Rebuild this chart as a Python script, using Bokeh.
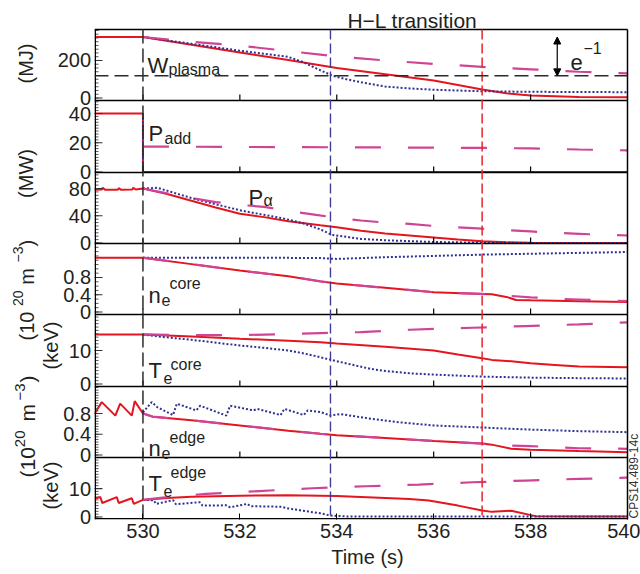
import math
from bokeh.plotting import figure
from bokeh.layouts import row
from bokeh.core.properties import value
from bokeh.models import Range1d, FixedTicker, Label, Arrow, NormalHead, ColumnDataSource
from bokeh.embed import file_html
from bokeh.resources import INLINE

# ---------------- data ----------------
X_TICKS = [530, 532, 534, 536, 538, 540]

# W_plasma (MJ)
T_W_RED = [529, 530, 531, 532, 533, 534, 535, 536, 537, 537.5, 538, 539, 540]
W_RED = [325, 325, 284, 243, 202, 160, 127, 93, 45, 25, 13, 6, 4]
T_W_BLUE = [530, 531, 532, 532.5, 533, 533.3, 533.6, 533.9, 534.2, 534.5, 535, 535.5, 536, 537, 538, 539, 540]
W_BLUE = [325, 289, 252, 236, 219, 192, 155, 120, 100, 84, 61, 51, 44, 36, 33, 32, 31]
T_W_MAG = [530, 531, 532, 533, 534, 535, 536, 537, 538, 539, 540]
W_MAG = [325, 300, 279, 250, 222, 200, 182, 166, 153, 140, 131]
E_LEVEL = 118          # W0 / e reference level
ARROW_T = 538.55

# P_add (MW)
T_PADD_RED = [529, 530, 530, 540]
PADD_RED = [40, 40, 0, 0]
T_PADD_BLUE = [530, 530, 540]
PADD_BLUE = [40, 0, 0]
T_PADD_MAG = [530, 533, 535, 537, 538, 539, 540]
PADD_MAG = [17.4, 17.0, 16.8, 16.5, 16.1, 15.4, 14.8]

# P_alpha (MW)
T_PA_RED = [529, 529.15, 529.17, 529.22, 529.48, 529.5, 529.55, 529.78, 529.8, 529.85, 530,
            530.5, 531, 531.5, 532, 532.5, 533, 533.66, 534, 534.5, 535, 535.5, 536, 536.5,
            537, 537.5, 538, 539, 540]
PA_RED = [78, 78.5, 81, 78, 78, 80.5, 78, 78.5, 81, 78.5, 80,
          72, 62, 52, 43, 38, 32, 26, 23, 18, 14, 11, 8, 5,
          2.5, 1, 0.3, 0.1, 0]
T_PA_BLUE = [530, 530.3, 531, 532, 532.9, 533.3, 533.66, 533.9, 534.5, 535, 536, 537, 538, 540]
PA_BLUE = [80, 81, 66, 48, 36, 29, 20, 12, 6, 4, 1.5, 0.5, 0, 0]
T_PA_MAG = [530, 530.5, 531, 531.5, 532, 532.5, 533, 533.5, 534, 534.5, 535, 535.5, 536,
            536.5, 537, 537.5, 538, 538.5, 539, 539.5, 540]
PA_MAG = [80, 73, 66, 60, 56, 53, 47, 42, 37, 33, 30, 28, 25, 23, 21, 19, 17, 15, 13.5, 12, 11]

# n_e core (1e20 m^-3)
T_NC_RED = [529, 530, 531, 532, 533, 533.66, 534, 535, 536, 537, 537.2, 537.5, 537.7, 538, 539, 540]
NC_RED = [1.26, 1.26, 1.11, 0.96, 0.83, 0.71, 0.66, 0.56, 0.46, 0.42, 0.41, 0.35, 0.28, 0.27, 0.25, 0.23]
T_NC_BLUE = [530, 531, 532, 533, 533.66, 534, 535, 536, 537, 538, 539, 540]
NC_BLUE = [1.26, 1.26, 1.26, 1.255, 1.25, 1.23, 1.27, 1.30, 1.33, 1.35, 1.37, 1.39]
T_NC_MAG = [530, 531, 532, 533, 533.66, 534, 535, 536, 537, 537.5, 538, 538.5, 539, 539.5, 540]
NC_MAG = [1.26, 1.11, 0.96, 0.83, 0.71, 0.66, 0.56, 0.46, 0.42, 0.38, 0.34, 0.31, 0.29, 0.27, 0.25]

# T_e core (keV)
T_TC_RED = [529, 530, 531, 532, 533, 533.66, 534, 535, 536, 536.5, 537, 537.2, 537.6, 538, 538.5, 539, 540]
TC_RED = [14.8, 14.8, 14.2, 13.5, 12.9, 12.5, 12.1, 11.1, 10.0, 8.8, 7.7, 7.2, 6.8, 6.2, 5.7, 5.2, 5.0]
T_TC_BLUE = [530, 530.3, 531, 532, 532.5, 533, 533.3, 533.66, 534, 534.7, 535, 535.5, 536, 537, 538, 539, 540]
TC_BLUE = [14.8, 14.2, 13.2, 11.5, 10.8, 10.0, 9.2, 8.0, 6.8, 4.5, 3.9, 3.2, 2.8, 2.2, 1.9, 1.75, 1.65]
T_TC_MAG = [530, 531, 532, 533, 533.66, 534.5, 535.5, 536.8, 537.9, 539, 540]
TC_MAG = [14.8, 14.6, 14.6, 14.9, 15.2, 15.5, 16.2, 16.8, 17.3, 17.8, 18.4]

# n_e edge (1e20 m^-3)
T_NE_RED = [529, 529.15, 529.43, 529.53, 529.77, 529.83, 530, 530.2, 531, 532, 533, 533.66, 534,
            535, 536, 537, 537.2, 537.6, 538, 539, 540]
NE_RED = [0.79, 1.02, 0.76, 0.99, 0.76, 1.04, 0.80, 0.74, 0.67, 0.57, 0.47, 0.41, 0.38,
          0.33, 0.27, 0.22, 0.20, 0.12, 0.10, 0.075, 0.055]
T_NE_BLUE = [530, 530.18, 530.3, 530.62, 530.7, 531.1, 531.18, 531.72, 531.8, 532.28, 532.36,
             532.84, 532.92, 533.32, 533.4, 533.66, 533.87, 534.07, 534.7, 535.3, 536, 537, 538, 539, 540]
NE_BLUE = [0.82, 1.02, 0.92, 0.77, 0.99, 0.86, 0.95, 0.76, 0.95, 0.86, 0.89,
           0.77, 0.89, 0.77, 0.86, 0.83, 0.76, 0.79, 0.70, 0.63, 0.57, 0.53, 0.49, 0.46, 0.44]
T_NE_MAG = [530, 530.2, 531, 532, 533, 533.66, 534, 535, 536, 537, 537.2, 537.6, 538, 539, 540]
NE_MAG = [0.80, 0.74, 0.67, 0.57, 0.47, 0.41, 0.38, 0.33, 0.27, 0.22, 0.20, 0.18, 0.17, 0.13, 0.12]

# T_e edge (keV)
T_TE_RED = [529, 529.12, 529.16, 529.46, 529.5, 529.77, 529.81, 530, 530.5, 531, 532, 533, 533.66,
            534, 535, 535.5, 535.9, 536.5, 537, 537.2, 537.6, 538.1, 539, 540]
TE_RED = [6.4, 7.0, 4.9, 7.0, 4.9, 6.6, 4.6, 6.0, 6.7, 7.1, 7.5, 7.6, 7.5,
          7.4, 6.7, 6.3, 5.8, 4.0, 2.3, 1.8, 2.2, 0.3, 0.2, 0.2]
T_TE_BLUE = [530, 530.22, 530.27, 530.62, 530.68, 531.17, 531.23, 531.72, 531.8, 532.15, 532.22,
             532.84, 533.0, 533.5, 533.66, 533.87, 534.2, 540]
TE_BLUE = [6.0, 5.9, 4.6, 5.9, 4.5, 5.2, 4.0, 4.1, 3.4, 4.6, 3.8, 3.6, 3.0, 1.7, 1.3, 0.5, 0.2, 0.2]
T_TE_MAG = [530, 530.5, 531.3, 532.4, 533.5, 534.6, 535.7, 536.8, 537.9, 539, 540]
TE_MAG = [6.0, 7.0, 8.1, 9.1, 10.1, 10.8, 11.4, 12.2, 12.8, 13.4, 13.8]

# event times
T_START = 530.0
T_HL_BLUE = 533.87
T_HL_RED = 537.0

# y ticks per panel
Y_TICKS = [[0, 200], [0, 20, 40], [0, 40, 80], [0, 0.4, 0.8], [0, 10], [0, 0.4, 0.8], [0, 10]]
Y_TICK_LABELS = [["0", "200"], ["0", "20", "40"], ["0", "40", "80"], ["0", "0.4", "0.8"],
                 ["0", "10"], ["0", "0.4", "0.8"], ["0", "10"]]
Y_MINOR_STEP = [20, 2, 5, 0.1, 1, 0.05, 1]
PANEL_LIMITS = [(-13.3, 365.1), (-0.34, 48.9), (-0.73, 103.5), (-0.058, 1.588),
                (-0.746, 20.75), (-0.048, 1.321), (-0.88, 20.9)]

SERIES = [
    (0, T_W_RED, W_RED, T_W_BLUE, W_BLUE, T_W_MAG, W_MAG),
    (1, T_PADD_RED, PADD_RED, T_PADD_BLUE, PADD_BLUE, T_PADD_MAG, PADD_MAG),
    (2, T_PA_RED, PA_RED, T_PA_BLUE, PA_BLUE, T_PA_MAG, PA_MAG),
    (3, T_NC_RED, NC_RED, T_NC_BLUE, NC_BLUE, T_NC_MAG, NC_MAG),
    (4, T_TC_RED, TC_RED, T_TC_BLUE, TC_BLUE, T_TC_MAG, TC_MAG),
    (5, T_NE_RED, NE_RED, T_NE_BLUE, NE_BLUE, T_NE_MAG, NE_MAG),
    (6, T_TE_RED, TE_RED, T_TE_BLUE, TE_BLUE, T_TE_MAG, TE_MAG),
]

# ---------------- style / layout ----------------
FONT = "Liberation Sans"
INK = "#231f20"
RED = "#e4151f"
BLUE = "#2e3192"
MAG = "#cf4596"
VBLUE = "#3d3d99"
VRED = "#e5262d"
DARK = "#2b2b2b"

W_TOTAL, H_TOTAL = 640, 574
FL, FR, FT, FB = 94, 627, 29, 519   # axes box in page pixels
BANDS = [29, 100, 172, 243, 314, 386, 457, 519]
XMIN, XMAX = 529, 540
PXS = (XMAX - XMIN) / (FR - FL)     # data units per pixel along x
FRAME_W = W_TOTAL - FL               # plot frame reaches the right edge of the page
FRAME_H = FB                         # plot frame reaches the top edge of the page
R90 = math.pi / 2


def panel_ranges(frame_h, bottom_sy):
    """Per-panel y ranges so that each panel fills its own band of a frame."""
    out = {}
    for i, (lo, hi) in enumerate(PANEL_LIMITS):
        b = bottom_sy - BANDS[i + 1]
        t = bottom_sy - BANDS[i]
        s = (hi - lo) / (t - b)
        out[i] = Range1d(lo - s * b, lo + s * (frame_h - b))
    return out


# ---- main plot ----
p = figure(frame_width=FRAME_W, frame_height=FRAME_H,
           x_range=Range1d(XMIN, XMIN + FRAME_W * PXS), y_range=Range1d(0, FRAME_H),
           output_backend="svg", toolbar_location=None, y_axis_location=None,
           min_border_left=0, min_border_right=0, min_border_top=0,
           min_border_bottom=H_TOTAL - FB)
p.xgrid.visible = False
p.ygrid.visible = False
p.outline_line_color = None
p.background_fill_color = "white"
p.border_fill_color = "white"
p.extra_y_ranges = {f"p{i}": r for i, r in panel_ranges(FRAME_H, FB).items()}

for kind in ("red", "blue", "mag"):
    for (i, tr, vr, tb, vb, tm, vm) in SERIES:
        rn = f"p{i}"
        if kind == "red":
            p.line(tr, vr, y_range_name=rn, line_color=RED, line_width=2)
        elif kind == "blue":
            p.line(tb, vb, y_range_name=rn, line_color=BLUE, line_width=2, line_dash="2 2")
        else:
            p.line(tm, vm, y_range_name=rn, line_color=MAG, line_width=2.2, line_dash="26 27")

# y ticks (inward) for every panel, from the tick lists
for i in range(7):
    lo, hi = PANEL_LIMITS[i]
    st = Y_MINOR_STEP[i]
    mn = [k * st for k in range(math.ceil(lo / st - 1e-9), math.floor(hi / st + 1e-9) + 1)]
    p.segment(x0=[XMIN] * len(mn), x1=[XMIN + 4 * PXS] * len(mn), y0=mn, y1=mn,
              y_range_name=f"p{i}", line_color="#555555", line_width=1)
    mj = Y_TICKS[i]
    p.segment(x0=[XMIN] * len(mj), x1=[XMIN + 8 * PXS] * len(mj), y0=mj, y1=mj,
              y_range_name=f"p{i}", line_color="#333333", line_width=1.2)

# box and panel separators
hy = [FB - y for y in BANDS]
hy[-1] = 0.75
p.segment(x0=[XMIN] * len(hy), x1=[XMAX] * len(hy), y0=hy, y1=hy, line_color="black", line_width=1.5)
p.segment(x0=[XMIN + 0.75 * PXS, XMAX], x1=[XMIN + 0.75 * PXS, XMAX], y0=[0, 0],
          y1=[FB - FT, FB - FT], line_color="black", line_width=1.5)

# small x ticks at the bottom of each upper panel
tk = dict(x0=[], y0=[], x1=[], y1=[])
for i in range(6):
    yb = FB - BANDS[i + 1]
    for xt in X_TICKS[:-1]:
        tk["x0"].append(xt); tk["x1"].append(xt)
        tk["y0"].append(yb); tk["y1"].append(yb + 6)
p.segment(x0="x0", y0="y0", x1="x1", y1="y1", source=ColumnDataSource(tk), line_color="black", line_width=1.2)

# vertical event lines
top = FB - FT
p.segment(x0=[T_START], x1=[T_START], y0=[top], y1=[0], line_color=DARK, line_width=1.5, line_dash="14 5")
p.segment(x0=[T_HL_BLUE], x1=[T_HL_BLUE], y0=[top], y1=[0], line_color=VBLUE, line_width=1.4, line_dash="10 4")
p.segment(x0=[T_HL_RED], x1=[T_HL_RED], y0=[top], y1=[0], line_color=VRED, line_width=1.5, line_dash="10 4")

# e^-1 level and arrow
p.segment(x0=[XMIN], x1=[XMAX], y0=[E_LEVEL], y1=[E_LEVEL], y_range_name="p0",
          line_color=DARK, line_width=1.5, line_dash="14 6")
p.add_layout(Arrow(x_start=ARROW_T, y_start=E_LEVEL, x_end=ARROW_T, y_end=W_RED[0], y_range_name="p0",
                   line_color="black", line_width=1.2,
                   start=NormalHead(size=7, fill_color="black", line_color="black"),
                   end=NormalHead(size=7, fill_color="black", line_color="black")))

xax = p.xaxis[0]
xax.ticker = FixedTicker(ticks=X_TICKS, minor_ticks=[])
xax.major_tick_in = 6
xax.major_tick_out = 0
xax.minor_tick_line_color = None
xax.axis_line_color = None
xax.major_label_standoff = 4
xax.major_label_text_font = FONT
xax.major_label_text_font_size = "20px"
xax.major_label_text_color = INK
xax.axis_label = "Time (s)"
xax.axis_label_text_font = FONT
xax.axis_label_text_font_size = "20px"
xax.axis_label_text_font_style = "normal"
xax.axis_label_text_color = INK
xax.axis_label_standoff = 5


def put(sx, sy, text, size, angle=0.0, align="left", baseline="alphabetic", color=INK):
    p.add_layout(Label(x=XMIN + (sx - FL) * PXS, y=FB - sy, text=text,
                       text_font=FONT, text_font_size=f"{size}px", text_color=color,
                       text_align=align, text_baseline=baseline, angle=angle))


put(412, 20, "H\u2212L transition", 21, align="center")
put(147, 65, "W", 22); put(168, 69, "plasma", 16)
put(148, 133, "P", 22); put(164, 138, "add", 16)
put(248, 197, "P", 22); put(263, 200, "\u03b1", 16)
put(148, 295, "n", 22); put(161, 299, "e", 16); put(169, 283, "core", 16)
put(148, 370, "T", 22); put(163, 377, "e", 16); put(170, 364, "core", 16)
put(148, 448, "n", 22); put(161, 452, "e", 16); put(169, 437, "edge", 16)
put(148, 483, "T", 22); put(163, 490, "e", 16); put(170, 472, "edge", 16)
put(570, 62, "e", 22); put(583, 47, "\u22121", 16)
put(633.5, 518, "CPS14.489-14c", 12, R90, color="#333333")

# ---- left strip: y tick labels and unit labels ----
lf = figure(frame_width=FL, frame_height=H_TOTAL, x_range=Range1d(0, FL), y_range=Range1d(0, H_TOTAL),
            output_backend="svg", toolbar_location=None, x_axis_location=None, y_axis_location=None,
            min_border=0)
lf.xgrid.visible = False
lf.ygrid.visible = False
lf.outline_line_color = None
lf.background_fill_color = "white"
lf.border_fill_color = "white"
lf.extra_y_ranges = {f"q{i}": r for i, r in panel_ranges(H_TOTAL, H_TOTAL).items()}

for i in range(7):
    n = len(Y_TICKS[i])
    lf.text(x=[FL - 3.5] * n, y=Y_TICKS[i], text=Y_TICK_LABELS[i], y_range_name=f"q{i}",
            text_align="right", text_baseline="middle", text_font=value(FONT),
            text_font_size=value("20px"), text_color=INK)


def lput(sx, sy, text, size, align="left"):
    lf.add_layout(Label(x=sx, y=H_TOTAL - sy, text=text, text_font=FONT, text_font_size=f"{size}px",
                        text_color=INK, text_align=align, text_baseline="alphabetic", angle=R90))


lput(25, 63, "(MJ)", 20, "center")
lput(25, 173, "(MW)", 20, "center")
lput(50, 345, "(keV)", 20, "center")
lput(50, 485, "(keV)", 20, "center")
lput(26.5, 340, "(10", 20); lput(17.5, 305.5, "20", 14); lput(26.5, 284.3, "m", 20)
lput(17.5, 262, "\u22123", 14); lput(26.5, 246, ")", 20)
lput(26.5, 477, "(10", 21); lput(19.5, 446.7, "20", 15); lput(26.5, 421, "m", 21)
lput(19.5, 400, "\u22123", 15); lput(26.5, 382, ")", 21)

layout = row(lf, p)
open("out.html", "w").write(file_html(layout, INLINE))
